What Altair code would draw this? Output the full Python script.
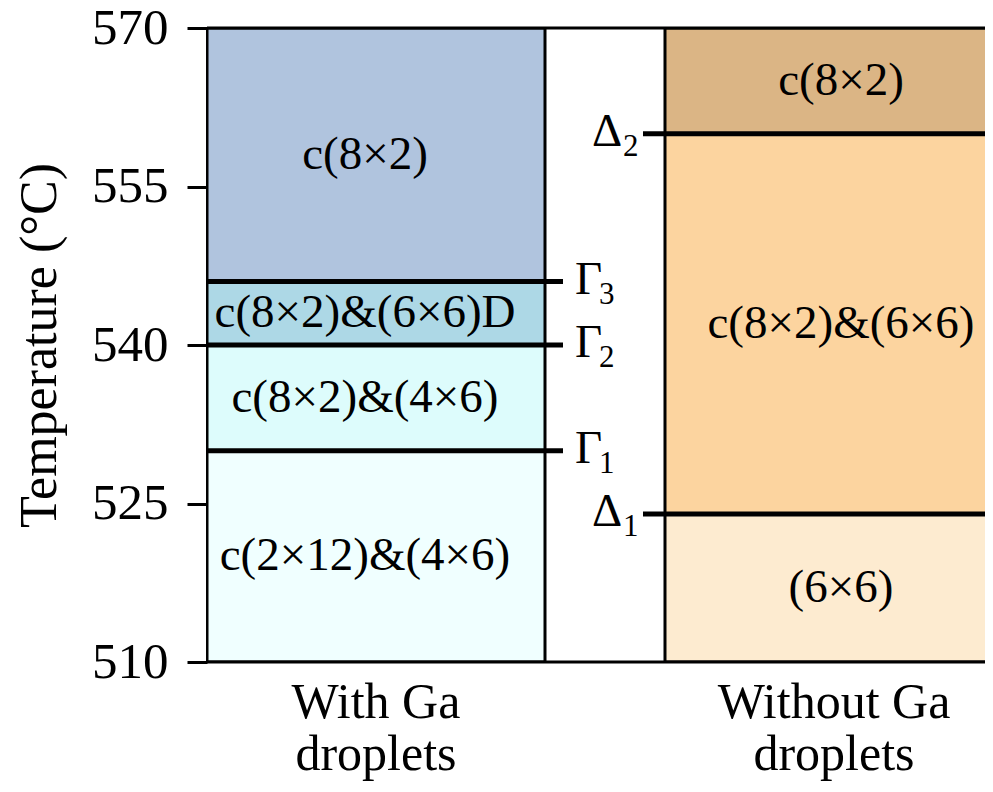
import altair as alt
import pandas as pd

# ---- data ----
columns = ["With Ga droplets", "Without Ga droplets"]

left_bounds = [510, 530, 540, 546, 570]
left_labels = ["c(2×12)&(4×6)", "c(8×2)&(4×6)", "c(8×2)&(6×6)D", "c(8×2)"]
left_colors = ["#F0FFFF", "#DDFCFC", "#ADD8E6", "#B0C4DE"]

right_bounds = [510, 524, 560, 570]
right_labels = ["(6×6)", "c(8×2)&(6×6)", "c(8×2)"]
right_colors = ["#FDEBD0", "#FCD49F", "#DBB585"]

left_trans_sym = ["Γ", "Γ", "Γ"]
left_trans_sub = ["1", "2", "3"]
left_trans_T = [530, 540, 546]

right_trans_sym = ["Δ", "Δ"]
right_trans_sub = ["1", "2"]
right_trans_T = [524, 560]

y_ticks = [510, 525, 540, 555, 570]
y_min, y_max = 510, 570

FONT = "Liberation Serif"

# ---- tables ----
seg_rows = []
for i, lab in enumerate(left_labels):
    seg_rows.append(dict(col=columns[0], lo=left_bounds[i], hi=left_bounds[i + 1],
                         mid=(left_bounds[i] + left_bounds[i + 1]) / 2,
                         label=lab, color=left_colors[i]))
for i, lab in enumerate(right_labels):
    seg_rows.append(dict(col=columns[1], lo=right_bounds[i], hi=right_bounds[i + 1],
                         mid=(right_bounds[i] + right_bounds[i + 1]) / 2,
                         label=lab, color=right_colors[i]))
seg = pd.DataFrame(seg_rows)
seg_left = seg[seg.col == columns[0]]
seg_right = seg[seg.col == columns[1]]

cols_df = pd.DataFrame(dict(col=columns, lo=[y_min, y_min], hi=[y_max, y_max]))

lt = pd.DataFrame(dict(col=columns[0], T=left_trans_T, sym=left_trans_sym, sub=left_trans_sub))
rt = pd.DataFrame(dict(col=columns[1], T=right_trans_T, sym=right_trans_sym, sub=right_trans_sub))

xscale = alt.Scale(domain=columns, range=[0, 796], paddingInner=0.262, paddingOuter=0)
yscale = alt.Scale(domain=[y_min, y_max], nice=False, zero=False)

X = alt.X("col:N", scale=xscale, sort=columns,
          axis=alt.Axis(title=None, domain=False, ticks=False, labelAngle=0,
                        labelFont=FONT, labelFontSize=50, labelColor="black",
                        labelPadding=15, labelLineHeight=52, labelLimit=0,
                        labelExpr="[replace(datum.label, ' droplets', ''), 'droplets']"))
Y = alt.Y("lo:Q", scale=yscale,
          axis=alt.Axis(title="Temperature (°C)", values=y_ticks, format="d",
                        domainColor="black", domainWidth=3,
                        tickColor="black", tickWidth=3, tickSize=20,
                        labelFont=FONT, labelFontSize=51, labelColor="black",
                        labelPadding=19, titleFont=FONT, titleFontSize=52,
                        titleFontWeight="normal", titleColor="black", titlePadding=25,
                        grid=False))

segments = alt.Chart(seg).mark_bar(clip=True, strokeWidth=0).encode(
    x=X, y=Y, y2="hi:Q", color=alt.Color("color:N", scale=None))

outline = alt.Chart(cols_df).mark_bar(clip=True, fillOpacity=0, stroke="black",
                                      strokeWidth=3).encode(
    x=alt.X("col:N", scale=xscale, sort=columns), y=alt.Y("lo:Q", scale=yscale), y2="hi:Q")

left_lines = alt.Chart(lt).mark_tick(clip=True, color="black", thickness=5,
                                     size=356, xOffset=9, opacity=1).encode(
    x=alt.X("col:N", scale=xscale, sort=columns), y=alt.Y("T:Q", scale=yscale))
right_lines = alt.Chart(rt).mark_tick(clip=True, color="black", thickness=5,
                                      size=360, xOffset=-11, opacity=1).encode(
    x=alt.X("col:N", scale=xscale, sort=columns), y=alt.Y("T:Q", scale=yscale))

frame_top = alt.Chart(pd.DataFrame({"v": [y_max]})).mark_rule(
    color="black", strokeWidth=3).encode(y=alt.Y("v:Q", scale=yscale))
frame_bot = alt.Chart(pd.DataFrame({"v": [y_min]})).mark_rule(
    color="black", strokeWidth=3).encode(y=alt.Y("v:Q", scale=yscale))

text_left = alt.Chart(seg_left).mark_text(font=FONT, fontSize=47, color="black",
                                          dx=-11).encode(
    x=alt.X("col:N", scale=xscale, sort=columns), y=alt.Y("mid:Q", scale=yscale),
    text="label:N")
text_right = alt.Chart(seg_right).mark_text(font=FONT, fontSize=47, color="black",
                                            dx=7).encode(
    x=alt.X("col:N", scale=xscale, sort=columns), y=alt.Y("mid:Q", scale=yscale),
    text="label:N")

lsym = alt.Chart(lt).mark_text(font=FONT, fontSize=47, color="black", align="left",
                               dx=199, dy=-2).encode(
    x=alt.X("col:N", scale=xscale, sort=columns), y=alt.Y("T:Q", scale=yscale), text="sym:N")
lsub = alt.Chart(lt).mark_text(font=FONT, fontSize=31, color="black", align="left",
                               dx=223, dy=13).encode(
    x=alt.X("col:N", scale=xscale, sort=columns), y=alt.Y("T:Q", scale=yscale), text="sub:N")
rsym = alt.Chart(rt).mark_text(font=FONT, fontSize=47, color="black", align="left",
                               dx=-242, dy=-2).encode(
    x=alt.X("col:N", scale=xscale, sort=columns), y=alt.Y("T:Q", scale=yscale), text="sym:N")
rsub = alt.Chart(rt).mark_text(font=FONT, fontSize=31, color="black", align="left",
                               dx=-211, dy=13).encode(
    x=alt.X("col:N", scale=xscale, sort=columns), y=alt.Y("T:Q", scale=yscale), text="sub:N")

chart = alt.layer(segments, outline, left_lines, right_lines, frame_top, frame_bot,
                  text_left, text_right, lsym, lsub, rsym, rsub).properties(
    width=778, height=634,
    autosize=alt.AutoSizeParams(type="none"),
    padding={"left": 199, "top": 20, "right": 0, "bottom": 122},
).configure_view(stroke=None).configure(background="white")

chart.save("out.html", embed_options={"renderer": "svg", "actions": False})
